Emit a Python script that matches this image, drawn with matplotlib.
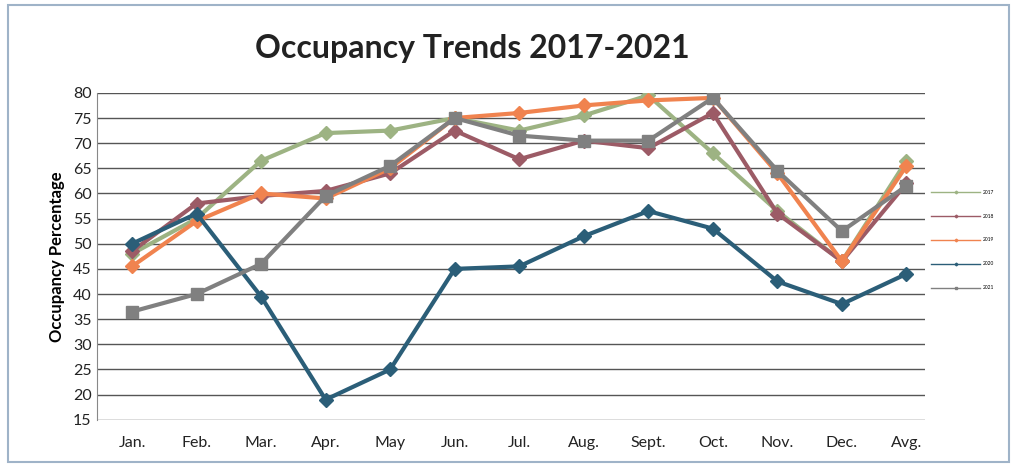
import matplotlib.pyplot as plt
from matplotlib.patches import Rectangle

months = ["Jan.", "Feb.", "Mar.", "Apr.", "May", "Jun.", "Jul.", "Aug.", "Sept.", "Oct.", "Nov.", "Dec.", "Avg."]

occ_2017 = [48, 55, 66.5, 72, 72.5, 75, 72.5, 75.5, 79.5, 68, 56.5, 46.5, 66.5]
occ_2018 = [48.5, 58, 59.5, 60.5, 64, 72.5, 66.8, 70.5, 69, 76, 56, 46.5, 62]
occ_2019 = [45.5, 54.5, 60, 59, 65, 75, 76, 77.5, 78.5, 79, 64, 46.5, 65.5]
occ_2020 = [50, 56, 39.5, 19, 25, 45, 45.5, 51.5, 56.5, 53, 42.5, 38, 44]
occ_2021 = [36.5, 40, 46, 59.5, 65.5, 75, 71.5, 70.5, 70.5, 79, 64.5, 52.5, 61.5]

years = ["2017", "2018", "2019", "2020", "2021"]
series = [occ_2017, occ_2018, occ_2019, occ_2020, occ_2021]
colors = ["#9db383", "#9c5b66", "#f0834f", "#2b5e78", "#808080"]
markers = ["D", "D", "D", "D", "s"]
msizes = [7, 7, 7, 7, 9]

plt.rcParams['font.family'] = ['Lato', 'DejaVu Sans']

fig = plt.figure(figsize=(10.16, 4.69), dpi=100)
ax = fig.add_axes([0.095, 0.105, 0.815, 0.697])

x = list(range(len(months)))
for vals, yr, c, m, ms in zip(series, years, colors, markers, msizes):
    ax.plot(x, vals, color=c, lw=3, marker=m, markersize=ms, label=yr, zorder=3)

ax.set_ylim(15, 80)
ax.set_xlim(-0.55, 12.28)
ax.set_yticks(range(15, 81, 5))
ax.set_xticks(x)
ax.set_xticklabels(months)
ax.tick_params(axis='both', length=0, labelsize=11.5, colors='#222222')
ax.tick_params(axis='x', pad=12)
ax.grid(axis='y', color='#555555', lw=1)
ax.set_axisbelow(True)
for s in ['top', 'right', 'bottom']:
    ax.spines[s].set_visible(False)
ax.spines['left'].set_color('#888888')

ax.set_ylabel("Occupancy Percentage", fontsize=12, fontweight='bold', labelpad=6)
fig.text(0.465, 0.897, "Occupancy Trends 2017-2021", ha='center', va='center',
         fontsize=23, fontweight='bold', color='#222222')

leg = ax.legend(loc='center left', bbox_to_anchor=(1.003, 0.55), frameon=False,
                fontsize=3.5, handlelength=10, labelspacing=3.9, markerscale=0.2,
                handletextpad=0.5)
for line in leg.get_lines():
    line.set_linewidth(1)

fig.patches.append(Rectangle((0.008, 0.015), 0.985, 0.975, transform=fig.transFigure,
                             fill=False, edgecolor='#9fb3c8', lw=1.5))

fig.savefig("out.png", dpi=100)
